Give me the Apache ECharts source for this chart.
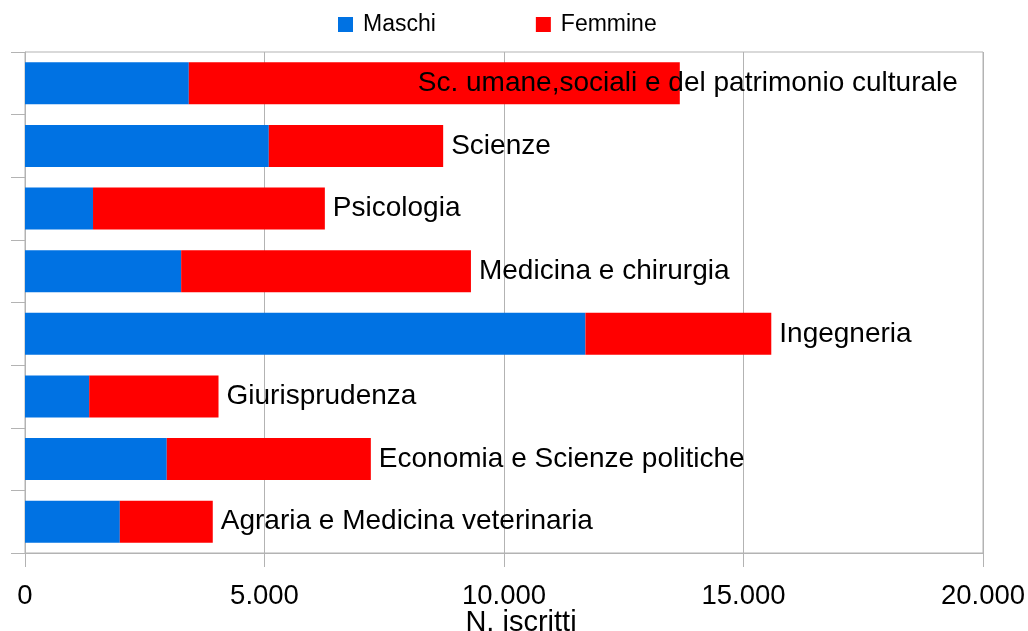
<!DOCTYPE html>
<html>
<head>
<meta charset="utf-8">
<script src="https://cdn.jsdelivr.net/npm/echarts@6/dist/echarts.min.js"></script>
<style>html,body{margin:0;padding:0;background:#fff;}#c{width:1028px;height:631px;}</style>
</head>
<body>
<div id="c"></div>
<script>
const categories = ["Agraria e Medicina veterinaria","Economia e Scienze politiche","Giurisprudenza","Ingegneria","Medicina e chirurgia","Psicologia","Scienze","Sc. umane,sociali e del patrimonio culturale"];
const maschi = [1980, 2960, 1340, 11700, 3260, 1420, 5090, 3420];
const femmine = [1940, 4260, 2700, 3880, 6050, 4840, 3640, 10250];
const seriesNames = ["Maschi", "Femmine"];
const xTicks = {min: 0, max: 20000, interval: 5000};
const xTitle = "N. iscritti";

const FONT = "Liberation Sans";
const grey = "#b3b3b3";
function fmt(v){ return String(v).replace(/\B(?=(\d{3})+(?!\d))/g, "."); }

const chart = echarts.init(document.getElementById('c'));
chart.setOption({
  animation: false,
  textStyle: {fontFamily: FONT},
  legend: {
    left: 333, top: 8, icon: 'rect', itemWidth: 15, itemHeight: 15, itemGap: 100,
    textStyle: {fontFamily: FONT, fontSize: 23, color: '#000', padding: [0,0,0,5]},
    data: seriesNames
  },
  grid: {left: 25, right: 45, top: 52, bottom: 78, show: true, borderColor: grey, borderWidth: 1,
         outerBoundsMode: 'none', containLabel: false},
  xAxis: {
    type: 'value', min: xTicks.min, max: xTicks.max, interval: xTicks.interval,
    name: xTitle, nameLocation: 'middle', nameGap: 55, nameMoveOverlap: false,
    nameTextStyle: {fontFamily: FONT, fontSize: 29, color: '#000', padding: [0, 0, 0, 34]},
    axisLine: {show: true, lineStyle: {color: grey}},
    axisTick: {show: true, length: 14, lineStyle: {color: grey}},
    splitLine: {show: true, lineStyle: {color: grey}},
    axisLabel: {fontFamily: FONT, fontSize: 27.5, color: '#000', margin: 29, formatter: fmt}
  },
  yAxis: {
    type: 'category', data: categories,
    axisLine: {show: true, lineStyle: {color: grey}},
    axisTick: {show: true, length: 14, lineStyle: {color: grey}},
    axisLabel: {show: false},
    splitLine: {show: false}
  },
  series: [
    {name: seriesNames[0], type: 'bar', stack: 't', data: maschi, barCategoryGap: '33%',
     itemStyle: {color: '#0072e3'}},
    {name: seriesNames[1], type: 'bar', stack: 't', barCategoryGap: '33%',
     itemStyle: {color: '#ff0000'},
     data: femmine.map((v, i) => i === femmine.length - 1
        ? {value: v, label: {offset: [-270, 0]}} : v),
     label: {show: true, position: 'right', distance: 8, formatter: '{b}',
             fontFamily: FONT, fontSize: 28, color: '#000'}}
  ]
});
</script>
</body>
</html>
